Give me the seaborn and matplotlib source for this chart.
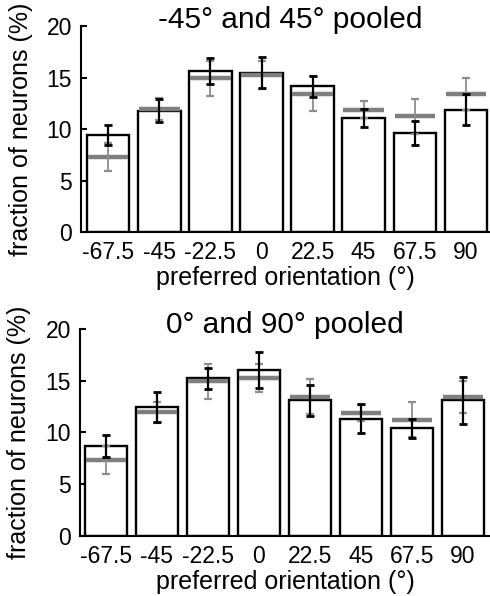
import matplotlib
matplotlib.use('Agg')
import matplotlib.pyplot as plt
import seaborn as sns
import pandas as pd
import numpy as np

categories = ['-67.5', '-45', '-22.5', '0', '22.5', '45', '67.5', '90']

top_title = '-45° and 45° pooled'
top_values = [9.45, 11.8, 15.6, 15.45, 14.15, 11.05, 9.65, 11.9]
top_err = [0.94, 1.15, 1.27, 1.5, 1.03, 0.86, 1.16, 1.52]

bottom_title = '0° and 90° pooled'
bottom_values = [8.69, 12.5, 15.25, 16.06, 13.1, 11.34, 10.4, 13.1]
bottom_err = [1.1, 1.45, 1.0, 1.75, 1.5, 1.4, 0.94, 2.3]

ref_values = [7.3, 11.95, 14.95, 15.25, 13.45, 11.9, 11.25, 13.45]
ref_err = [1.37, 1.03, 1.7, 1.35, 1.7, 0.8, 1.7, 1.55]

yticks = [0, 5, 10, 15, 20]

sns.set_theme(style='ticks')
plt.rcParams['font.family'] = ['Liberation Sans', 'DejaVu Sans']

fig = plt.figure(figsize=(4.9, 5.96), dpi=100)
ax1 = fig.add_axes([0.1653, 0.6102, 0.8347, 0.3462])
ax2 = fig.add_axes([0.1633, 0.1012, 0.8367, 0.3463])


def draw(ax, vals, errs, title, xlim, title_x, title_y, ylab_x):
    df = pd.DataFrame({'orientation': categories, 'fraction': vals})
    sns.barplot(data=df, x='orientation', y='fraction', order=categories,
                color='white', edgecolor='black', linewidth=1.7, width=0.83,
                saturation=1, ax=ax, zorder=2)
    x = np.arange(len(categories))
    ax.hlines(ref_values, x - 0.395, x + 0.395, color='#7f7f7f',
              linewidth=3.2, zorder=3)
    ax.errorbar(x, ref_values, yerr=ref_err, fmt='none', ecolor='#8e8e8e',
                elinewidth=1.3, capsize=3.0, capthick=1.6, zorder=4)
    ax.errorbar(x, vals, yerr=errs, fmt='none', ecolor='black',
                elinewidth=1.6, capsize=3.0, capthick=2.0, zorder=5)
    ax.set_xlim(*xlim)
    ax.set_ylim(0, 20)
    ax.set_yticks(yticks)
    ax.set_yticklabels([str(t) for t in yticks])
    sns.despine(ax=ax)
    for s in ['left', 'bottom']:
        ax.spines[s].set_linewidth(1.5)
        ax.spines[s].set_color('black')
    ax.tick_params(axis='y', direction='in', length=4, width=1.5,
                   pad=6.5, labelsize=16.5, colors='black')
    ax.tick_params(axis='x', length=0, pad=6.5, labelsize=16.5,
                   colors='black')
    ax.set_xlabel('preferred orientation (°)', fontsize=18, labelpad=1.5,
                  color='black')
    ax.set_ylabel('fraction of neurons (%)', fontsize=18, color='black')
    ax.yaxis.set_label_coords(ylab_x, 0.5)
    ax.text(title_x, title_y, title, transform=ax.transAxes, ha='center',
            va='baseline', fontsize=21.5, color='black')


draw(ax1, top_values, top_err, top_title, (-0.5346, 7.474), 0.511, 0.99, -0.118)
draw(ax2, bottom_values, bottom_err, bottom_title, (-0.506, 7.53), 0.5, 0.982, -0.119)

fig.savefig('out.png', dpi=100, facecolor='white')
